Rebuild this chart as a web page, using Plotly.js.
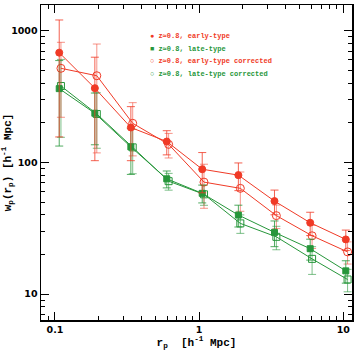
<!DOCTYPE html>
<html>
<head>
<meta charset="utf-8">
<script src="https://cdn.plot.ly/plotly-3.0.1.min.js"></script>
<style>
  html, body { margin: 0; padding: 0; background: #fff; }
  #plot { width: 363px; height: 356px; }
</style>
</head>
<body>
<div id="plot"></div>
<script>
// Projected correlation function w_p(r_p) at z~0.8, split by galaxy type
const rpObs  = [0.107, 0.189, 0.336, 0.596, 1.05, 1.87, 3.33, 5.89, 10.4];
const rpCorr = [0.110, 0.195, 0.346, 0.614, 1.08, 1.93, 3.43, 6.07, 10.7];

const wpEarly      = [681, 366, 184, 144, 88.7, 80, 50.8, 34.8, 26.0];
const errEarly     = [525, 263, 81, 30, 30, 19, 10.8, 7, 4.6];
const wpLate       = [363, 236, 131, 75, 58.2, 39.8, 29.4, 22.1, 15.0];
const errLate      = [230, 100, 50, 11, 9, 7.5, 6.5, 4, 2.9];
const wpEarlyCorr  = [518, 455, 198, 137, 70.8, 63.5, 39.4, 27.7, 20.9];
const errEarlyCorr = [298, 337, 86, 29, 26, 21, 8, 5.5, 4];
const wpLateCorr   = [380, 233, 130, 72, 57.2, 34.4, 27.2, 18.5, 12.9];
const errLateCorr  = [225, 105, 48, 10.5, 10, 5.5, 5.5, 4.4, 2.5];

const seriesNames = [
  'z\u22430.8, early-type',
  'z\u22430.8, late-type',
  'z\u22430.8, early-type corrected',
  'z\u22430.8, late-type corrected'
];

const RED = 'rgb(240,58,38)';
const GREEN = 'rgb(38,150,58)';

function series(x, y, err, color, barColor, symbol, size, name) {
  return {
    type: 'scatter', mode: 'lines+markers', name: name,
    x: x, y: y,
    error_y: { type: 'data', array: err, visible: true, color: barColor, thickness: 1, width: 4 },
    line: { color: color, width: 1 },
    marker: { color: color, symbol: symbol, size: size, line: { color: color, width: 1 } },
    showlegend: false
  };
}

const data = [
  series(rpCorr, wpLateCorr, errLateCorr, GREEN, 'rgba(38,150,58,0.6)', 'square-open', 7, seriesNames[3]),
  series(rpCorr, wpEarlyCorr, errEarlyCorr, RED, 'rgba(240,58,38,0.55)', 'circle-open', 8, seriesNames[2]),
  series(rpObs, wpLate, errLate, GREEN, 'rgba(38,150,58,0.8)', 'square', 6, seriesNames[1]),
  series(rpObs, wpEarly, errEarly, RED, 'rgba(240,58,38,0.8)', 'circle', 7, seriesNames[0])
];

// key drawn as coloured text lines
const keySymbols = ['\u25CF', '\u25A0', '\u25CB', '\u25CB'];
const keyColors = [RED, GREEN, RED, GREEN];
const annotations = seriesNames.map((n, i) => ({
  xref: 'paper', yref: 'paper', x: 0.345, y: 0.9 - i * 0.0395,
  xanchor: 'left', yanchor: 'middle', showarrow: false,
  text: keySymbols[i] + ' ' + n,
  font: { family: 'Liberation Mono, monospace', size: 7, weight: 'bold', color: keyColors[i] }
}));

const axisCommon = {
  type: 'log', showgrid: false, zeroline: false,
  showline: true, linecolor: '#000', linewidth: 1.5, mirror: 'allticks',
  ticks: 'inside', ticklen: 8, tickwidth: 1, tickcolor: '#000',
  dtick: 1,
  minor: { dtick: 'D1', ticks: 'inside', ticklen: 4, tickwidth: 1, tickcolor: '#000', showgrid: false },
  tickfont: { family: 'DejaVu Sans, sans-serif', size: 9.5, weight: 'bold', color: '#000' }
};

const layout = {
  width: 363, height: 356,
  margin: { l: 41, r: 11, t: 5, b: 36 },
  paper_bgcolor: '#fff', plot_bgcolor: '#fff',
  xaxis: Object.assign({}, axisCommon, {
    range: [-1.097, 1.060],
    tickvals: [0.1, 1, 10], ticktext: ['0.1', '1', '10'],
    title: { text: 'r<sub>p</sub>  [h<sup>-1</sup> Mpc]', standoff: 4,
             font: { family: 'Liberation Mono, monospace', size: 11, weight: 'bold', color: '#000' } }
  }),
  yaxis: Object.assign({}, axisCommon, {
    range: [0.803, 3.195],
    tickvals: [10, 100, 1000], ticktext: ['10', '100', '1000'],
    title: { text: 'w<sub>p</sub>(r<sub>p</sub>) [h<sup>-1</sup> Mpc]', standoff: 3,
             font: { family: 'Liberation Mono, monospace', size: 11, weight: 'bold', color: '#000' } }
  }),
  annotations: annotations,
  showlegend: false
};

Plotly.newPlot('plot', data, layout, { staticPlot: true, displayModeBar: false });
</script>
</body>
</html>
